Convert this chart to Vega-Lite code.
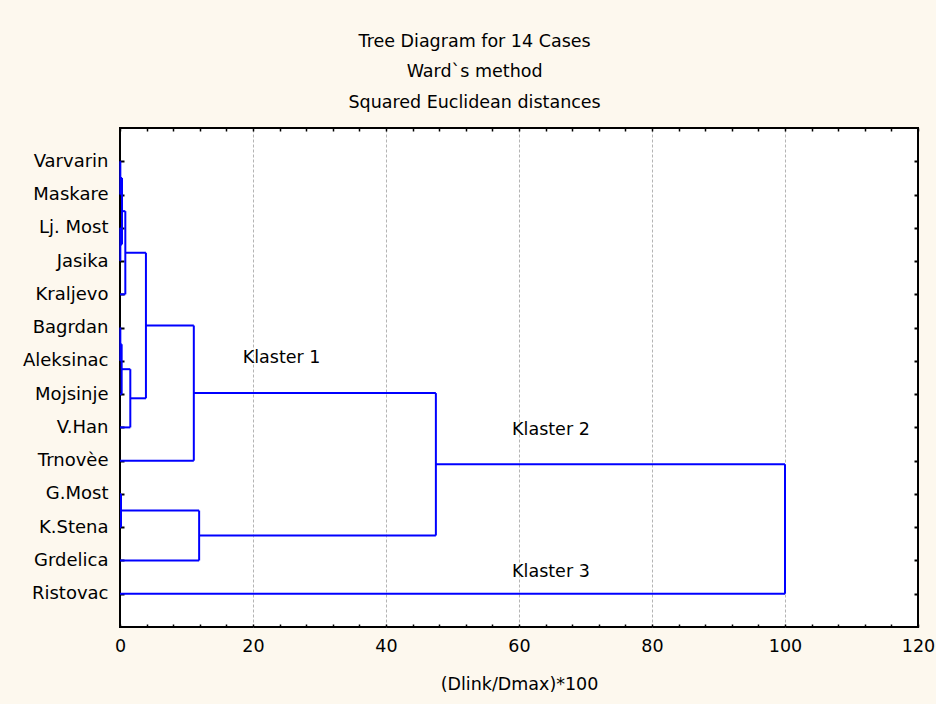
{
  "$schema": "https://vega.github.io/schema/vega-lite/v6.json",
  "autosize": {"type": "none"},
  "width": 798,
  "height": 499,
  "padding": {"left": 120, "top": 128, "right": 18, "bottom": 77},
  "background": "#fdf8ee",
  "config": {
    "view": {"stroke": "#000000", "strokeWidth": 2, "fill": "#ffffff"},
    "font": "DejaVu Sans",
    "axis": {"labelColor": "#000000", "titleColor": "#000000", "tickColor": "#000000"}
  },
  "title": {
    "text": ["Tree Diagram for 14 Cases", "Ward`s method", "Squared Euclidean distances"],
    "fontSize": 17.5,
    "fontWeight": "normal",
    "lineHeight": 30.5,
    "color": "#000000",
    "anchor": "middle",
    "frame": "bounds",
    "offset": 16,
    "dx": -4
  },
  "datasets": {
    "segments": [
      {"x": 0, "x2": 0.05, "y": 1, "y2": 1},
      {"x": 0, "x2": 0.05, "y": 2, "y2": 2},
      {"x": 0.05, "x2": 0.05, "y": 1, "y2": 2},
      {"x": 0, "x2": 0.05, "y": 3, "y2": 3},
      {"x": 0, "x2": 0.05, "y": 4, "y2": 4},
      {"x": 0.05, "x2": 0.05, "y": 3, "y2": 4},
      {"x": 0.05, "x2": 0.3, "y": 1.5, "y2": 1.5},
      {"x": 0.05, "x2": 0.3, "y": 3.5, "y2": 3.5},
      {"x": 0.3, "x2": 0.3, "y": 1.5, "y2": 3.5},
      {"x": 0.3, "x2": 0.8, "y": 2.5, "y2": 2.5},
      {"x": 0, "x2": 0.8, "y": 5, "y2": 5},
      {"x": 0.8, "x2": 0.8, "y": 2.5, "y2": 5},
      {"x": 0, "x2": 0.05, "y": 6, "y2": 6},
      {"x": 0, "x2": 0.05, "y": 7, "y2": 7},
      {"x": 0.05, "x2": 0.05, "y": 6, "y2": 7},
      {"x": 0.05, "x2": 0.25, "y": 6.5, "y2": 6.5},
      {"x": 0, "x2": 0.25, "y": 8, "y2": 8},
      {"x": 0.25, "x2": 0.25, "y": 6.5, "y2": 8},
      {"x": 0.25, "x2": 1.55, "y": 7.25, "y2": 7.25},
      {"x": 0, "x2": 1.55, "y": 9, "y2": 9},
      {"x": 1.55, "x2": 1.55, "y": 7.25, "y2": 9},
      {"x": 0.8, "x2": 3.9, "y": 3.75, "y2": 3.75},
      {"x": 1.55, "x2": 3.9, "y": 8.125, "y2": 8.125},
      {"x": 3.9, "x2": 3.9, "y": 3.75, "y2": 8.125},
      {"x": 3.9, "x2": 11.1, "y": 5.9375, "y2": 5.9375},
      {"x": 0, "x2": 11.1, "y": 10, "y2": 10},
      {"x": 11.1, "x2": 11.1, "y": 5.9375, "y2": 10},
      {"x": 0, "x2": 0.15, "y": 11, "y2": 11},
      {"x": 0, "x2": 0.15, "y": 12, "y2": 12},
      {"x": 0.15, "x2": 0.15, "y": 11, "y2": 12},
      {"x": 0.15, "x2": 11.9, "y": 11.5, "y2": 11.5},
      {"x": 0, "x2": 11.9, "y": 13, "y2": 13},
      {"x": 11.9, "x2": 11.9, "y": 11.5, "y2": 13},
      {"x": 11.1, "x2": 47.5, "y": 7.96875, "y2": 7.96875},
      {"x": 11.9, "x2": 47.5, "y": 12.25, "y2": 12.25},
      {"x": 47.5, "x2": 47.5, "y": 7.96875, "y2": 12.25},
      {"x": 47.5, "x2": 100, "y": 10.109, "y2": 10.109},
      {"x": 0, "x2": 100, "y": 14, "y2": 14},
      {"x": 100, "x2": 100, "y": 10.109, "y2": 14}
    ],
    "labels": [
      {"x": 24.3, "y": 6.91, "label": "Klaster 1"},
      {"x": 64.8, "y": 9.08, "label": "Klaster 2"},
      {"x": 64.8, "y": 13.35, "label": "Klaster 3"}
    ]
  },
  "layer": [
    {
      "data": {"name": "segments"},
      "mark": {"type": "rule", "color": "#0000ff", "strokeWidth": 2},
      "encoding": {
        "x": {
          "field": "x", "type": "quantitative",
          "scale": {"domain": [0, 120], "nice": false, "zero": false},
          "axis": {
            "orient": "bottom",
            "values": [0, 4, 8, 12, 16, 20, 24, 28, 32, 36, 40, 44, 48, 52, 56, 60, 64, 68, 72, 76, 80, 84, 88, 92, 96, 100, 104, 108, 112, 116, 120],
            "labelExpr": "datum.value % 20 === 0 ? datum.label : ''",
            "domain": false,
            "tickSize": -3,
            "tickWidth": 1.5,
            "labelPadding": 13,
            "labelFontSize": 17.5,
            "labelFlush": false,
            "labelOverlap": false,
            "grid": true,
            "gridColor": "#b4b4b4",
            "gridDash": [3, 2],
            "gridWidth": 1,
            "gridOpacity": {"condition": {"test": "datum.value % 20 === 0 && datum.value > 0 && datum.value < 120", "value": 1}, "value": 0},
            "title": "(Dlink/Dmax)*100",
            "titleFontSize": 17.5,
            "titleFontWeight": "normal",
            "titlePadding": 21
          }
        },
        "x2": {"field": "x2"},
        "y": {
          "field": "y", "type": "quantitative",
          "scale": {"domain": [0, 15], "nice": false, "zero": false, "reverse": true},
          "axis": {
            "orient": "left",
            "values": [1, 2, 3, 4, 5, 6, 7, 8, 9, 10, 11, 12, 13, 14],
            "labelExpr": "['', 'Varvarin', 'Maskare', 'Lj. Most', 'Jasika', 'Kraljevo', 'Bagrdan', 'Aleksinac', 'Mojsinje', 'V.Han', 'Trnovèe', 'G.Most', 'K.Stena', 'Grdelica', 'Ristovac'][datum.value]",
            "domain": false,
            "grid": false,
            "tickSize": -4,
            "tickWidth": 2,
            "labelPadding": 16,
            "labelFontSize": 18,
            "labelOverlap": false,
            "labelBaseline": "middle",
            "title": null
          }
        },
        "y2": {"field": "y2"}
      }
    },
    {
      "data": {"name": "labels"},
      "mark": {"type": "text", "fontSize": 17.5, "color": "#000000", "align": "center", "baseline": "middle"},
      "encoding": {
        "x": {
          "field": "x", "type": "quantitative",
          "axis": {
            "orient": "top",
            "values": [0, 4, 8, 12, 16, 20, 24, 28, 32, 36, 40, 44, 48, 52, 56, 60, 64, 68, 72, 76, 80, 84, 88, 92, 96, 100, 104, 108, 112, 116, 120],
            "labels": false,
            "domain": false,
            "grid": false,
            "tickSize": -3,
            "tickWidth": 1.5,
            "title": null
          }
        },
        "y": {
          "field": "y", "type": "quantitative",
          "axis": {
            "orient": "right",
            "values": [1, 2, 3, 4, 5, 6, 7, 8, 9, 10, 11, 12, 13, 14],
            "labels": false,
            "domain": false,
            "grid": false,
            "tickSize": -4,
            "tickWidth": 2,
            "title": null
          }
        },
        "text": {"field": "label"}
      }
    }
  ],
  "resolve": {"axis": {"x": "independent", "y": "independent"}}
}
